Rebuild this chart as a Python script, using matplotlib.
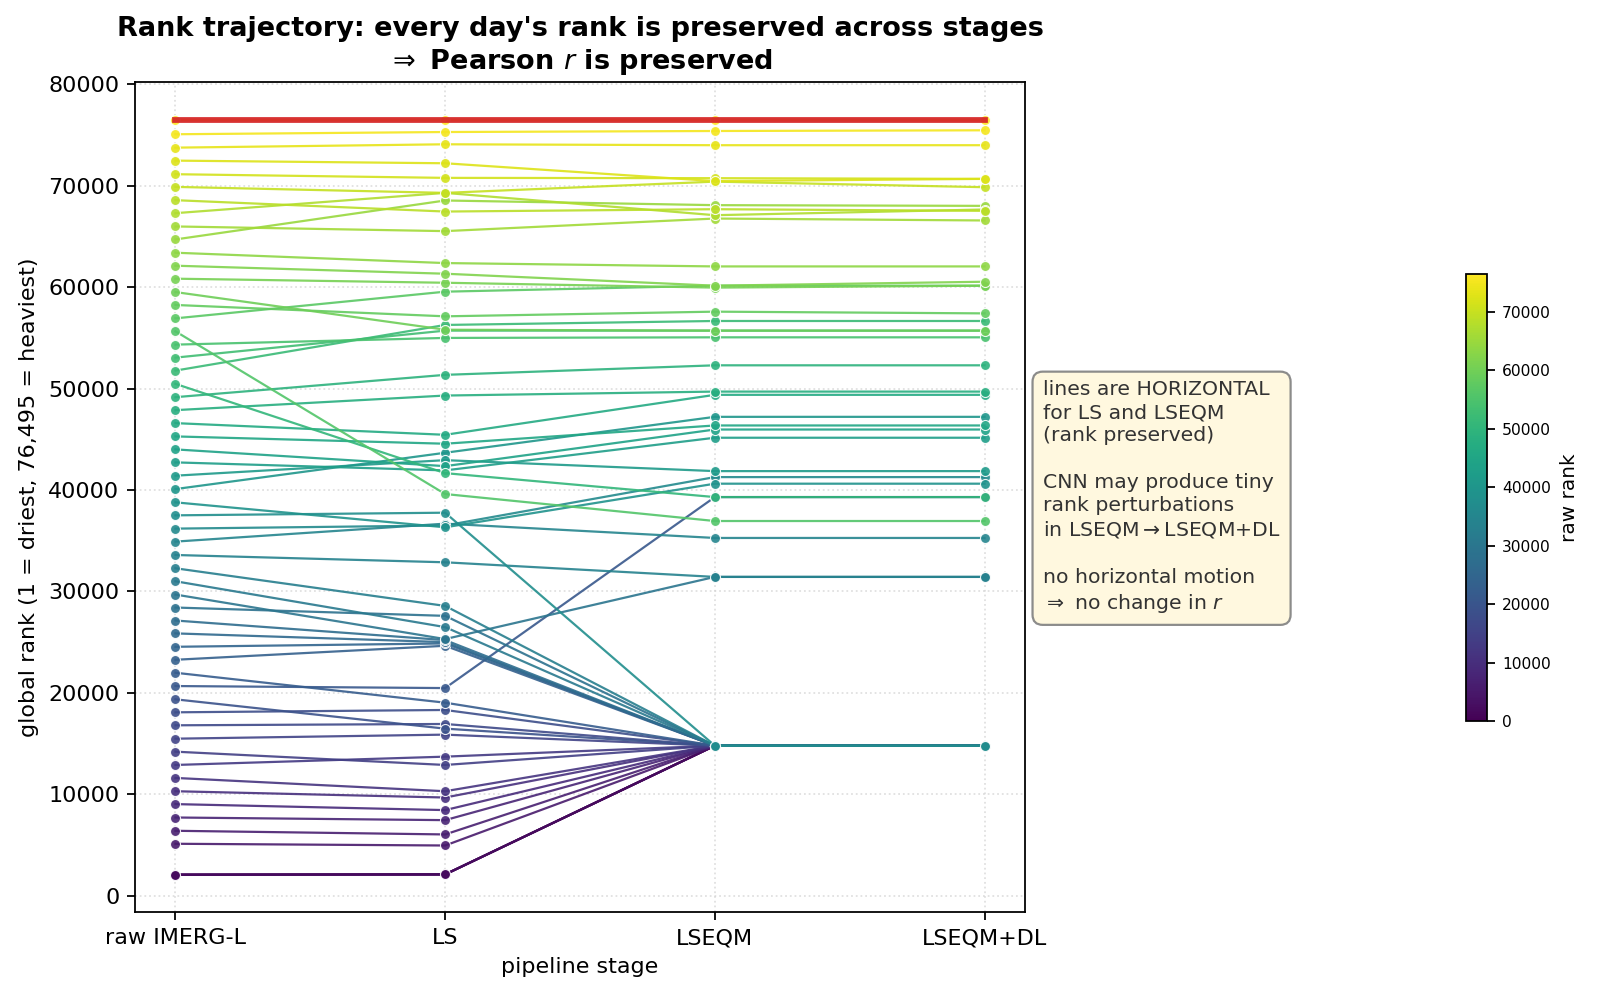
import numpy as np
import matplotlib as mpl
import matplotlib.pyplot as plt

stages = ['raw IMERG-L', 'LS', 'LSEQM', 'LSEQM+DL']
n_days = 76495

# sampled days, heaviest first; global rank at each pipeline stage
raw_rank = [76495, 75070, 73750, 72470, 71130, 69880, 68570, 67290, 65980, 64700,
            63390, 62110, 60830, 59510, 58240, 56920, 55640, 54330, 53050, 51770,
            50460, 49150, 47870, 46590, 45280, 44000, 42720, 41410, 40090, 38780,
            37500, 36190, 34910, 33590, 32280, 31000, 29690, 28410, 27130, 25860,
            24540, 23260, 21980, 20670, 19360, 18080, 16800, 15480, 14200, 12890,
            11610, 10300, 9030, 7710, 6400, 5120, 2070, 2070, 2070, 2070]
ls_rank = [76495, 75290, 74080, 72210, 70770, 69290, 67450, 69290, 65520, 68540,
           62370, 61320, 60430, 55800, 57120, 59550, 39600, 54990, 55710, 56270,
           41660, 51350, 49310, 45440, 44560, 42350, 41930, 42940, 43670, 36320,
           37760, 36500, 36680, 32870, 28570, 26480, 25300, 27590, 25200, 25000,
           24870, 24640, 19030, 20470, 16470, 18310, 16930, 15880, 12890, 13710,
           10300, 9680, 8440, 7450, 6040, 4950, 2100, 2100, 2100, 2100]
lseqm_rank = [76495, 75390, 73990, 70450, 70740, 70400, 67680, 67090, 66760, 68080,
              62040, 60140, 59950, 55710, 57580, 60140, 36940, 55050, 55710, 56660,
              39300, 52290, 49700, 49380, 46360, 45960, 45150, 41860, 47210, 40620,
              14790, 41270, 35270, 31430, 14790, 14790, 31430, 14790, 14790, 14790,
              14790, 14790, 14790, 39300, 14790, 14790, 14790, 14790, 14790, 14790,
              14790, 14790, 14790, 14790, 14790, 14790, 14790, 14790, 14790, 14790]
dl_rank = [76495, 75460, 73990, 70670, 70670, 69850, 67520, 67650, 66570, 68010,
           62040, 60530, 60140, 55710, 57410, 60140, 36940, 55050, 55710, 56660,
           39300, 52290, 49700, 49380, 46360, 45960, 45150, 41860, 47210, 40620,
           14790, 41270, 35270, 31430, 14790, 14790, 31430, 14790, 14790, 14790,
           14790, 14790, 14790, 39300, 14790, 14790, 14790, 14790, 14790, 14790,
           14790, 14790, 14790, 14790, 14790, 14790, 14790, 14790, 14790, 14790]

fig = plt.figure(figsize=(10, 6.23125), dpi=160)
ax = fig.add_axes([0.0844, 0.0848, 0.5562, 0.8329])

cmap = plt.cm.viridis
norm = mpl.colors.Normalize(0, n_days)
xs = np.arange(len(stages))

# draw driest first so wetter days end up on top
for i in np.argsort(raw_rank, kind='stable'):
    ys = [raw_rank[i], ls_rank[i], lseqm_rank[i], dl_rank[i]]
    ax.plot(xs, ys, '-o', color=cmap(norm(raw_rank[i])), lw=1.0, ms=4.5,
            mec='white', mew=0.5, alpha=0.9)

# highlight the heaviest day
top = int(np.argmax(raw_rank))
ax.plot(xs, [raw_rank[top], ls_rank[top], lseqm_rank[top], dl_rank[top]],
        color='#d62728', lw=2.6, alpha=0.95, zorder=5)

ax.set_xticks(xs)
ax.set_xticklabels(stages)
ax.set_xlabel('pipeline stage')
ax.set_ylabel('global rank (1 = driest, 76,495 = heaviest)')
ax.set_title("Rank trajectory: every day's rank is preserved across stages\n"
             "$\\Rightarrow$ Pearson $r$ is preserved",
             fontsize=12.2, fontweight='bold')
ax.grid(True, ls=':', color='lightgray', lw=0.8, alpha=0.7)
ax.set_axisbelow(True)

note = ("lines are HORIZONTAL\nfor LS and LSEQM\n(rank preserved)\n\n"
        "CNN may produce tiny\nrank perturbations\nin LSEQM$\\rightarrow$LSEQM+DL\n\n"
        "no horizontal motion\n$\\Rightarrow$ no change in $r$")
ax.text(1.02, 0.5, note, transform=ax.transAxes, fontsize=9.2, va='center',
        ha='left', color='#333333', linespacing=1.28,
        bbox=dict(boxstyle='round,pad=0.5', fc='cornsilk', ec='gray', alpha=0.9))

cax = fig.add_axes([0.916, 0.2768, 0.0131, 0.4484])
sm = mpl.cm.ScalarMappable(norm=norm, cmap=cmap)
cb = fig.colorbar(sm, cax=cax)
cb.set_label('raw rank', fontsize=9)
cb.ax.tick_params(labelsize=7)

fig.savefig('out.png', dpi=160)
